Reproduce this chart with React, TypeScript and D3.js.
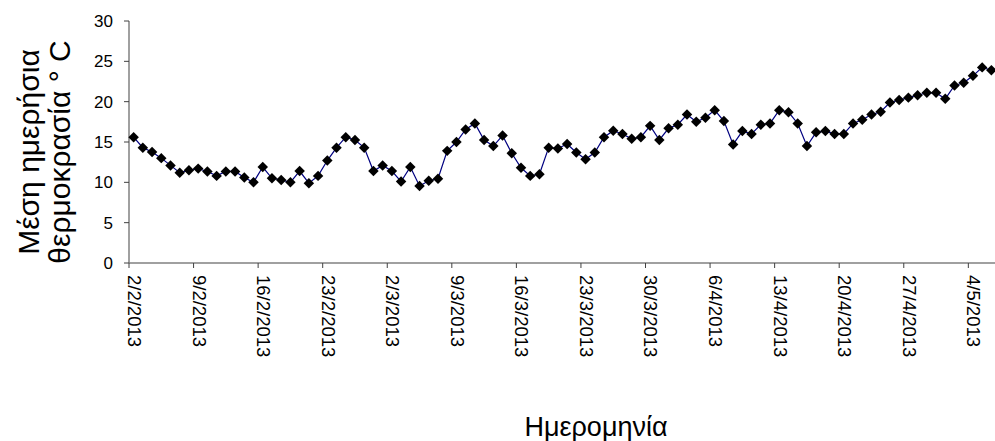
import React from "react";
import * as d3 from "d3";

// Daily mean temperature (°C), one value per day starting 2 Feb 2013
const startDate = new Date(2013, 1, 2);
const temperatures = [
  15.6, 14.3, 13.75, 13.0, 12.1, 11.2, 11.5, 11.7, 11.35, 10.8,
  11.35, 11.35, 10.6, 10.0, 11.9, 10.5, 10.3, 10.0, 11.4, 9.9,
  10.8, 12.7, 14.3, 15.6, 15.25, 14.3, 11.4, 12.1, 11.4, 10.1,
  11.9, 9.55, 10.2, 10.45, 13.9, 15.0, 16.55, 17.3, 15.25, 14.5,
  15.8, 13.6, 11.8, 10.8, 11.0, 14.3, 14.2, 14.75, 13.7, 12.85,
  13.7, 15.6, 16.4, 16.0, 15.4, 15.6, 17.0, 15.25, 16.7, 17.15,
  18.4, 17.5, 18.0, 18.95, 17.6, 14.7, 16.35, 16.0, 17.15, 17.3,
  18.95, 18.7, 17.3, 14.5, 16.2, 16.35, 16.0, 16.0, 17.3, 17.75,
  18.4, 18.75, 19.9, 20.2, 20.5, 20.8, 21.1, 21.1, 20.35, 22.0,
  22.35, 23.2, 24.25, 23.9,
];

const yTicks = [0, 5, 10, 15, 20, 25, 30];
const xTickLabels = [
  "2/2/2013", "9/2/2013", "16/2/2013", "23/2/2013", "2/3/2013", "9/3/2013",
  "16/3/2013", "23/3/2013", "30/3/2013", "6/4/2013", "13/4/2013",
  "20/4/2013", "27/4/2013", "4/5/2013",
];
const yTitleLines = ["Μέση ημερήσια", "θερμοκρασία ° C"];
const xTitle = "Ημερομηνία";

const W = 995;
const H = 441;
const left = 129;
const right = 996;
const top = 21;
const bottom = 263;
const font = "'Liberation Sans', Arial, sans-serif";

const parseLabel = d3.timeParse("%d/%m/%Y");

export default function App() {
  const dates = temperatures.map((_, i) => d3.timeDay.offset(startDate, i));
  const endDate = d3.timeDay.offset(startDate, temperatures.length);

  const x = d3.scaleTime().domain([startDate, endDate]).range([left, right]);
  const y = d3.scaleLinear().domain([0, 30]).range([bottom, top]);

  // each day occupies one slot; the point sits in the middle of it
  const mid = (d: Date) => x(d3.timeHour.offset(d, 12));

  const line = d3
    .line<number>()
    .x((_, i) => mid(dates[i]))
    .y((v) => y(v));

  const diamond = d3.symbol().type(d3.symbolDiamond2).size(70)() as string;

  const tickDates = xTickLabels.map((s) => parseLabel(s) as Date);

  return (
    <svg width={W} height={H} style={{ display: "block", position: "absolute", left: 0, top: 0 }}>
      <rect width={W} height={H} fill="#fff" />

      {/* y axis */}
      <line x1={left} x2={left} y1={top} y2={bottom} stroke="#808080" strokeWidth={1.5} />
      {yTicks.map((t) => (
        <g key={t}>
          <line x1={left - 5} x2={left} y1={y(t)} y2={y(t)} stroke="#404040" />
          <text
            x={left - 16}
            y={y(t)}
            dy="0.36em"
            textAnchor="end"
            fontFamily={font}
            fontSize={17}
            fill="#000"
          >
            {t}
          </text>
        </g>
      ))}

      {/* x axis */}
      <line x1={left} x2={right} y1={bottom} y2={bottom} stroke="#808080" strokeWidth={1.5} />
      {tickDates.map((d, i) => (
        <g key={i}>
          <line x1={x(d)} x2={x(d)} y1={bottom} y2={bottom + 5} stroke="#404040" />
          <text
            transform={`translate(${mid(d) + 1},${bottom + 12}) rotate(90)`}
            dy="0.36em"
            textAnchor="start"
            fontFamily={font}
            fontSize={18.5}
            fill="#000"
          >
            {xTickLabels[i]}
          </text>
        </g>
      ))}

      {/* series */}
      <path d={line(temperatures) as string} fill="none" stroke="#000080" strokeWidth={1.2} />
      {temperatures.map((v, i) => (
        <path key={i} d={diamond} transform={`translate(${mid(dates[i])},${y(v)})`} fill="#000" />
      ))}

      {/* axis titles */}
      <text
        transform={`translate(${39},${152}) rotate(-90)`}
        textAnchor="middle"
        fontFamily={font}
        fontSize={30}
        fill="#000"
      >
        {yTitleLines[0]}
      </text>
      <text
        transform={`translate(${70},${152}) rotate(-90)`}
        textAnchor="middle"
        fontFamily={font}
        fontSize={30}
        fill="#000"
      >
        {yTitleLines[1]}
      </text>
      <text x={596} y={436} textAnchor="middle" fontFamily={font} fontSize={27} fill="#000">
        {xTitle}
      </text>
    </svg>
  );
}
